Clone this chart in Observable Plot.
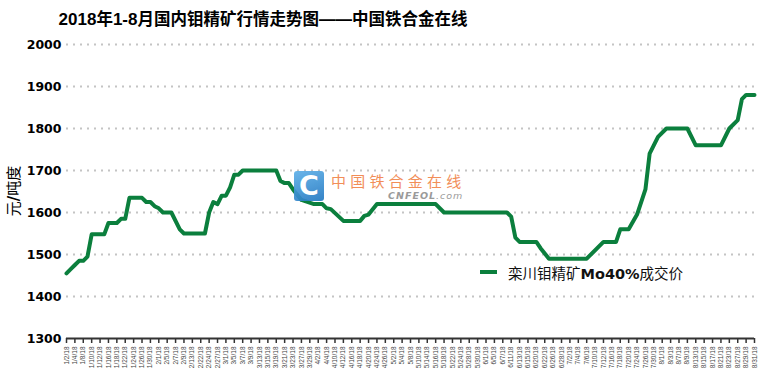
<!DOCTYPE html>
<html><head><meta charset="utf-8">
<script src="https://cdn.jsdelivr.net/npm/d3@7"></script>
<script src="https://cdn.jsdelivr.net/npm/@observablehq/plot@0.6"></script>
<style>
body{margin:0;background:#fff;}
#wrap{position:relative;width:760px;height:372px;overflow:hidden;font-family:"Liberation Sans","Noto Sans CJK SC",sans-serif;}
#title{position:absolute;left:0;top:6px;width:526px;text-align:center;font-size:16.5px;font-weight:bold;white-space:nowrap;color:#000;font-family:"Liberation Sans","Noto Sans CJK SC",sans-serif;}
#title b{font-weight:bold;font-size:17px;}
#chart{position:absolute;left:0;top:36px;}
#ylab{position:absolute;left:12px;top:191px;transform:translate(-50%,-50%) rotate(-90deg);font-size:15px;white-space:nowrap;font-family:"Noto Sans CJK SC",sans-serif;color:#000;}
#ylab b{font-family:"DejaVu Sans";font-weight:bold;}
#legend{position:absolute;left:480px;top:262px;height:20px;display:flex;align-items:center;white-space:nowrap;}
#legend .sw{width:17px;height:4px;background:#0b7f3d;margin-right:11px;}
#legend .tx{font-size:14.5px;font-family:"Noto Sans CJK SC",sans-serif;color:#111;}
#legend .tx b{font-family:"DejaVu Sans";font-weight:bold;font-size:14.5px;}
#wm-logo{position:absolute;left:294px;top:171px;width:30px;height:30px;border-radius:3px;background:linear-gradient(160deg,#5fb0e8,#2479c2);opacity:.92;color:#fff;font:bold 27px/30px "DejaVu Sans";text-align:center;}
#wm-cn{position:absolute;left:331px;top:170px;font-size:15px;letter-spacing:4.2px;color:#f07b3c;opacity:.85;white-space:nowrap;font-family:"Noto Sans CJK SC",sans-serif;}
#wm-en{position:absolute;left:388px;top:190px;font-size:9.5px;font-style:italic;color:#9a9a9a;letter-spacing:1px;white-space:nowrap;font-family:"DejaVu Sans";}
#wm-en b{font-weight:bold;}
</style>
</head><body>
<div id="wrap">
  <div id="title"><b>2018</b>年<b>1-8</b>月国内钼精矿行情走势图——中国铁合金在线</div>
  <div id="chart"></div>
  <div id="ylab">元<b>/</b>吨度</div>
  <div id="wm-logo">C</div>
  <div id="wm-cn">中国铁合金在线</div>
  <div id="wm-en"><b>CNFEOL</b>.com</div>
  <div id="legend"><div class="sw"></div><div class="tx">栾川钼精矿<b>Mo40%</b>成交价</div></div>
</div>
<script>
// Trading-day categories (2018-01-02 .. 2018-08-31), weekdays minus Chinese holidays, plus make-up day
const holidays = ["2018-02-15","2018-02-16","2018-02-19","2018-02-20","2018-02-21","2018-04-05","2018-04-06","2018-04-30","2018-05-01","2018-06-18"];
const makeupDays = ["2018-02-24"];
const fmtKey = d3.utcFormat("%Y-%m-%d");
const categories = d3.utcDay.range(new Date(Date.UTC(2018,0,2)), new Date(Date.UTC(2018,8,1)))
  .filter(d => (d.getUTCDay() !== 0 && d.getUTCDay() !== 6 && !holidays.includes(fmtKey(d))) || makeupDays.includes(fmtKey(d)))
  .map(fmtKey);

// Price series (turning points)
const priceDates = ["2018-01-02","2018-01-03","2018-01-04","2018-01-05","2018-01-08","2018-01-09","2018-01-10","2018-01-15","2018-01-16","2018-01-18","2018-01-19","2018-01-22","2018-01-23","2018-01-26","2018-01-29","2018-01-30","2018-01-31","2018-02-01","2018-02-02","2018-02-06","2018-02-08","2018-02-09","2018-02-23","2018-02-24","2018-02-26","2018-02-27","2018-02-28","2018-03-01","2018-03-02","2018-03-05","2018-03-06","2018-03-07","2018-03-19","2018-03-20","2018-03-21","2018-03-22","2018-03-23","2018-03-27","2018-03-30","2018-04-03","2018-04-04","2018-04-09","2018-04-12","2018-04-18","2018-04-19","2018-04-20","2018-04-24","2018-05-16","2018-05-18","2018-06-08","2018-06-11","2018-06-12","2018-06-13","2018-06-20","2018-06-21","2018-06-25","2018-07-06","2018-07-12","2018-07-17","2018-07-18","2018-07-20","2018-07-24","2018-07-26","2018-07-27","2018-07-31","2018-08-02","2018-08-09","2018-08-13","2018-08-21","2018-08-23","2018-08-27","2018-08-28","2018-08-29","2018-08-31"];
const priceValues = [1455,1465,1475,1485,1485,1495,1548,1548,1575,1575,1585,1585,1635,1635,1625,1625,1615,1610,1600,1600,1560,1550,1550,1600,1625,1620,1640,1640,1660,1690,1690,1700,1700,1675,1670,1670,1655,1630,1620,1620,1610,1608,1580,1580,1592,1595,1620,1620,1600,1600,1590,1540,1530,1530,1515,1490,1490,1530,1530,1560,1560,1595,1655,1740,1780,1800,1800,1760,1760,1800,1820,1870,1880,1880];

const yTicks = [1300,1400,1500,1600,1700,1800,1900,2000];
const gridTicks = [1400,1500,1600,1700,1800,1900,2000];
const seriesName = "栾川钼精矿Mo40%成交价";

const table = priceDates.map((d, i) => ({idx: categories.indexOf(d), value: priceValues[i]}));
const tickIdx = categories.map((d, i) => i).filter(i => i % 2 === 0);
const tickLabel = i => { const p = categories[i].split("-"); return `${+p[1]}/${+p[2]}/18`; };

const chart = Plot.plot({
  width: 760,
  height: 336,
  marginLeft: 66,
  marginRight: 6,
  marginTop: 8,
  marginBottom: 34,
  style: {fontFamily: "Liberation Sans, sans-serif", background: "#fff", overflow: "visible"},
  x: {type: "linear", domain: [0, categories.length - 1]},
  y: {domain: [1300, 2000]},
  marks: [
    Plot.gridY(gridTicks, {stroke: "#c4c4c4", strokeOpacity: 1, strokeWidth: 2, strokeDasharray: "2,5"}),
    Plot.axisY(yTicks, {tickSize: 0, tickPadding: 5, tickFormat: d => String(d), fontSize: 12.5, fontWeight: "bold", fontFamily: "DejaVu Sans", fill: "#000", label: null}),
    Plot.axisX(tickIdx, {tickFormat: tickLabel, tickRotate: -90, tickSize: 5, tickPadding: 3, fontSize: 6.5, fill: "#444", stroke: "#333", strokeWidth: 1.5, label: null}),
    Plot.ruleY([1300], {stroke: "#333", strokeWidth: 2}),
    Plot.line(table, {x: "idx", y: "value", stroke: "#0b7f3d", strokeWidth: 4, strokeLinejoin: "round", strokeLinecap: "round", title: () => seriesName})
  ]
});
document.getElementById("chart").appendChild(chart);
</script>
</body></html>
